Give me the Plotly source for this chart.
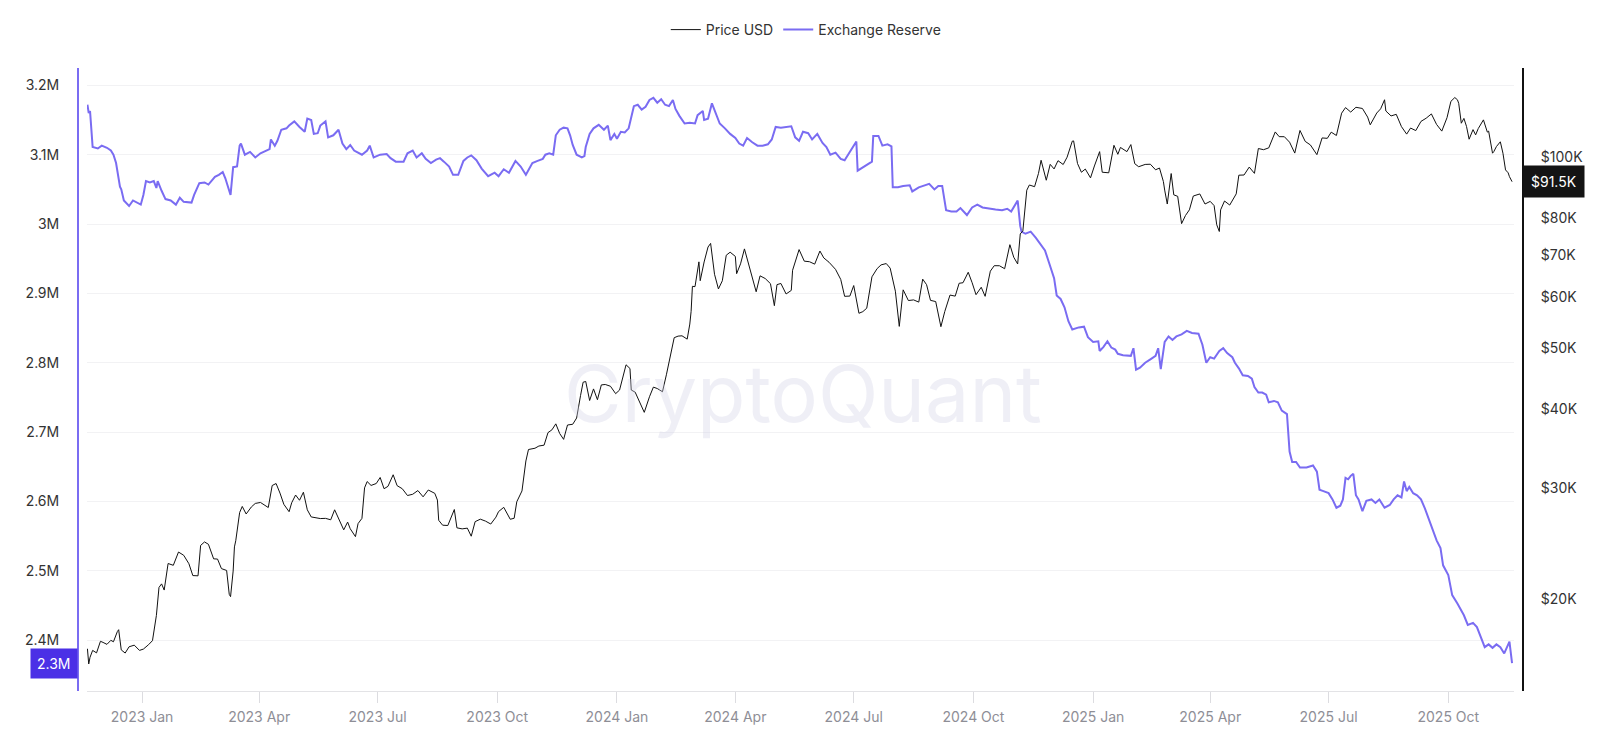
import plotly.graph_objs as go

# --- data ---
price_dates = [
    '2022-11-20', '2022-11-21', '2022-11-22', '2022-11-24', '2022-11-27', '2022-11-30',
    '2022-12-02', '2022-12-05', '2022-12-08', '2022-12-10', '2022-12-13', '2022-12-14',
    '2022-12-16', '2022-12-19', '2022-12-22', '2022-12-26', '2022-12-30',
    '2023-01-02', '2023-01-06', '2023-01-09', '2023-01-12', '2023-01-14', '2023-01-16',
    '2023-01-18', '2023-01-21', '2023-01-25', '2023-01-29', '2023-02-02', '2023-02-06',
    '2023-02-09', '2023-02-13', '2023-02-15', '2023-02-18', '2023-02-21', '2023-02-25',
    '2023-02-28', '2023-03-03', '2023-03-07', '2023-03-09', '2023-03-10', '2023-03-12',
    '2023-03-13', '2023-03-14', '2023-03-17', '2023-03-19', '2023-03-22', '2023-03-26',
    '2023-03-29', '2023-04-02', '2023-04-05', '2023-04-08', '2023-04-11', '2023-04-14',
    '2023-04-17', '2023-04-20', '2023-04-24', '2023-04-26', '2023-04-29', '2023-05-02',
    '2023-05-05', '2023-05-08', '2023-05-11', '2023-05-14', '2023-05-18', '2023-05-22',
    '2023-05-26', '2023-05-29', '2023-06-01', '2023-06-05', '2023-06-08', '2023-06-10',
    '2023-06-14', '2023-06-16', '2023-06-19', '2023-06-21', '2023-06-23', '2023-06-26',
    '2023-06-30', '2023-07-03', '2023-07-06', '2023-07-09', '2023-07-13', '2023-07-16',
    '2023-07-20', '2023-07-24', '2023-07-28', '2023-08-01', '2023-08-05', '2023-08-09',
    '2023-08-14', '2023-08-16', '2023-08-17', '2023-08-20', '2023-08-24', '2023-08-29',
    '2023-08-31', '2023-09-04', '2023-09-08', '2023-09-11', '2023-09-14', '2023-09-18',
    '2023-09-22', '2023-09-26', '2023-09-30', '2023-10-02', '2023-10-06', '2023-10-11',
    '2023-10-14', '2023-10-16', '2023-10-20', '2023-10-23', '2023-10-25', '2023-10-30',
    '2023-11-02', '2023-11-06', '2023-11-09', '2023-11-12', '2023-11-15', '2023-11-18',
    '2023-11-21', '2023-11-24', '2023-11-28', '2023-12-01', '2023-12-04', '2023-12-06',
    '2023-12-08', '2023-12-11', '2023-12-14', '2023-12-17', '2023-12-20', '2023-12-23',
    '2023-12-27', '2023-12-31',
    '2024-01-03', '2024-01-08', '2024-01-11', '2024-01-12', '2024-01-15', '2024-01-18',
    '2024-01-22', '2024-01-26', '2024-01-29', '2024-02-01', '2024-02-05', '2024-02-08',
    '2024-02-11', '2024-02-14', '2024-02-17', '2024-02-20', '2024-02-24', '2024-02-26',
    '2024-02-27', '2024-02-28', '2024-03-01', '2024-03-04', '2024-03-05', '2024-03-08',
    '2024-03-11', '2024-03-13', '2024-03-16', '2024-03-19', '2024-03-22', '2024-03-25',
    '2024-03-28', '2024-04-01', '2024-04-02', '2024-04-05', '2024-04-08', '2024-04-12',
    '2024-04-15', '2024-04-17', '2024-04-20', '2024-04-24', '2024-04-28', '2024-05-01',
    '2024-05-03', '2024-05-06', '2024-05-10', '2024-05-14', '2024-05-15', '2024-05-20',
    '2024-05-24', '2024-05-28', '2024-06-01', '2024-06-05', '2024-06-08', '2024-06-12',
    '2024-06-17', '2024-06-21', '2024-06-24', '2024-06-28', '2024-07-01', '2024-07-05',
    '2024-07-08', '2024-07-11', '2024-07-15', '2024-07-19', '2024-07-22', '2024-07-26',
    '2024-07-29', '2024-08-02', '2024-08-05', '2024-08-08', '2024-08-12', '2024-08-16',
    '2024-08-20', '2024-08-23', '2024-08-26', '2024-08-29', '2024-09-02', '2024-09-06',
    '2024-09-09', '2024-09-13', '2024-09-17', '2024-09-20', '2024-09-23', '2024-09-27',
    '2024-09-30', '2024-10-03', '2024-10-07', '2024-10-10', '2024-10-14', '2024-10-17',
    '2024-10-21', '2024-10-25', '2024-10-29', '2024-11-01', '2024-11-04', '2024-11-06',
    '2024-11-08', '2024-11-11', '2024-11-13', '2024-11-17', '2024-11-20', '2024-11-22',
    '2024-11-26', '2024-11-29', '2024-12-02', '2024-12-05', '2024-12-09', '2024-12-12',
    '2024-12-16', '2024-12-17', '2024-12-20', '2024-12-23', '2024-12-26', '2024-12-30',
    '2025-01-02', '2025-01-06', '2025-01-08', '2025-01-10', '2025-01-13', '2025-01-17',
    '2025-01-20', '2025-01-22', '2025-01-27', '2025-01-30', '2025-02-02', '2025-02-05',
    '2025-02-10', '2025-02-14', '2025-02-18', '2025-02-21', '2025-02-24', '2025-02-25',
    '2025-02-27', '2025-03-02', '2025-03-04', '2025-03-07', '2025-03-10', '2025-03-13',
    '2025-03-16', '2025-03-19', '2025-03-24', '2025-03-28', '2025-04-01', '2025-04-04',
    '2025-04-06', '2025-04-08', '2025-04-09', '2025-04-12', '2025-04-16', '2025-04-21',
    '2025-04-23', '2025-04-27', '2025-05-01', '2025-05-05', '2025-05-08', '2025-05-12',
    '2025-05-16', '2025-05-21', '2025-05-24', '2025-05-28', '2025-06-01', '2025-06-05',
    '2025-06-09', '2025-06-13', '2025-06-17', '2025-06-22', '2025-06-26', '2025-06-30',
    '2025-07-03', '2025-07-07', '2025-07-11', '2025-07-14', '2025-07-18', '2025-07-22',
    '2025-07-27', '2025-07-31', '2025-08-02', '2025-08-07', '2025-08-10', '2025-08-13',
    '2025-08-14', '2025-08-18', '2025-08-22', '2025-08-26', '2025-08-30', '2025-09-02',
    '2025-09-06', '2025-09-10', '2025-09-14', '2025-09-18', '2025-09-22', '2025-09-26',
    '2025-09-30', '2025-10-03', '2025-10-06', '2025-10-08', '2025-10-09', '2025-10-11',
    '2025-10-13', '2025-10-15', '2025-10-17', '2025-10-20', '2025-10-22', '2025-10-24',
    '2025-10-27', '2025-10-28', '2025-10-31', '2025-11-01', '2025-11-04', '2025-11-05',
    '2025-11-07', '2025-11-09', '2025-11-10', '2025-11-12', '2025-11-14', '2025-11-16',
    '2025-11-17', '2025-11-19',
]
price_usd = [
    16700, 15800, 16190, 16600, 16450, 17160,
    17090, 16970, 17220, 17130, 17780, 17900,
    16630, 16440, 16820, 16920, 16600,
    16680, 16950, 17200, 18850, 20880, 21150,
    20680, 22780, 22630, 23750, 23470, 22760,
    21800, 21780, 24330, 24640, 24430, 23170,
    23150, 22360, 22210, 20360, 20190, 22160,
    24200, 24750, 27430, 28040, 27280, 27990,
    28350, 28450, 28170, 27930, 30260, 30480,
    29440, 28250, 27510, 28420, 29230, 28680,
    29530, 27700, 26990, 26910, 26830, 26850,
    26710, 27700, 26820, 25750, 26490, 25850,
    25120, 26340, 26850, 30000, 30700, 30270,
    30480, 31160, 29910, 30170, 31470, 30250,
    29910, 29180, 29310, 29710, 29040, 29770,
    29410, 28700, 26660, 26190, 26160, 27730,
    25940, 25840, 25910, 25160, 26530, 26770,
    26580, 26300, 26970, 27520, 27950, 26760,
    26860, 28520, 29670, 33090, 34500, 34660,
    34940, 35050, 36690, 37060, 37880, 36570,
    35800, 37720, 37820, 38690, 41980, 44080,
    44200, 41240, 43020, 41360, 43650, 43720,
    43440, 42280,
    42840, 46970, 46340, 42850, 42510, 41280,
    39500, 41810, 43300, 43080, 42580, 45290,
    48300, 51840, 52140, 52200, 51570, 54480,
    57060, 62500, 62430, 68330, 63800, 68300,
    72120, 73080, 65310, 61910, 63780, 69990,
    70780, 69700, 65450, 67840, 71630, 67120,
    63430, 61280, 64940, 64300, 63110, 58250,
    62890, 63160, 60790, 61580, 66270, 71450,
    68500, 68360, 67760, 71080, 69310, 68240,
    66490, 64100, 60270, 60320, 62680, 56660,
    57000, 57720, 64700, 66680, 67580, 67910,
    66790, 61410, 54020, 61710, 59350, 59490,
    59010, 64160, 62880, 59390, 59130, 53960,
    57050, 60550, 60310, 63200, 63330, 65790,
    63330, 60630, 62290, 60270, 66050, 67380,
    67370, 66640, 72740, 69480, 67800, 75640,
    76510, 88700, 90400, 89840, 94290, 98920,
    91980, 97460, 95840, 98770, 97400, 100040,
    106060, 106140, 97760, 94690, 95800, 92780,
    96880, 102080, 94700, 94550, 94500, 104460,
    101090, 103650, 102080, 104730, 97690, 96620,
    97430, 97500, 95540, 96160, 91550, 88740,
    84350, 94250, 87220, 86740, 78530, 80900,
    82580, 86850, 87500, 84350, 85170, 83860,
    78210, 76320, 82570, 85280, 84030, 87520,
    93690, 93750, 96490, 94310, 103240, 102800,
    103490, 109670, 107800, 107780, 105650, 101540,
    110260, 105960, 104600, 100960, 107300, 107140,
    109580, 108260, 117420, 119840, 117900, 119960,
    119450, 115760, 112550, 117480, 119300, 123300,
    118360, 116250, 116930, 111800, 108800, 111230,
    110210, 113960, 115300, 117100, 112700, 110000,
    115500, 122600, 124300, 123300, 121700, 113200,
    115200, 111900, 106800, 110600, 108500, 111000,
    114100, 114600, 109600, 110000, 101500, 102100,
    104000, 105300, 105800, 101500, 95500, 94500,
    93200, 91500,
]

reserve_dates = [
    '2022-11-20', '2022-11-21', '2022-11-22', '2022-11-24', '2022-11-28', '2022-12-01',
    '2022-12-05', '2022-12-08', '2022-12-10', '2022-12-12', '2022-12-15', '2022-12-16',
    '2022-12-18', '2022-12-22', '2022-12-25', '2022-12-29', '2022-12-31',
    '2023-01-02', '2023-01-04', '2023-01-07', '2023-01-10', '2023-01-12', '2023-01-13',
    '2023-01-16', '2023-01-19', '2023-01-23', '2023-01-27', '2023-01-30', '2023-02-02',
    '2023-02-08', '2023-02-10', '2023-02-14', '2023-02-18', '2023-02-21', '2023-02-23',
    '2023-02-26', '2023-03-01', '2023-03-04', '2023-03-06', '2023-03-10', '2023-03-12',
    '2023-03-15', '2023-03-17', '2023-03-18', '2023-03-21', '2023-03-25', '2023-03-29',
    '2023-04-02', '2023-04-09', '2023-04-10', '2023-04-13', '2023-04-15', '2023-04-18',
    '2023-04-22', '2023-04-24', '2023-04-28', '2023-05-02', '2023-05-06', '2023-05-08',
    '2023-05-11', '2023-05-13', '2023-05-16', '2023-05-18', '2023-05-22', '2023-05-24',
    '2023-05-28', '2023-06-01', '2023-06-04', '2023-06-07', '2023-06-10', '2023-06-13',
    '2023-06-19', '2023-06-23', '2023-06-25', '2023-06-28', '2023-07-03', '2023-07-08',
    '2023-07-11', '2023-07-15', '2023-07-21', '2023-07-24', '2023-07-28', '2023-07-31',
    '2023-08-04', '2023-08-07', '2023-08-11', '2023-08-15', '2023-08-18', '2023-08-21',
    '2023-08-25', '2023-08-28', '2023-09-01', '2023-09-05', '2023-09-08', '2023-09-11',
    '2023-09-15', '2023-09-19', '2023-09-24', '2023-09-29', '2023-10-02', '2023-10-06',
    '2023-10-10', '2023-10-15', '2023-10-19', '2023-10-23', '2023-10-28', '2023-11-01',
    '2023-11-05', '2023-11-07', '2023-11-10', '2023-11-13', '2023-11-15', '2023-11-18',
    '2023-11-21', '2023-11-24', '2023-11-26', '2023-11-28', '2023-12-01', '2023-12-05',
    '2023-12-07', '2023-12-08', '2023-12-11', '2023-12-14', '2023-12-18', '2023-12-22',
    '2023-12-25', '2023-12-27', '2023-12-30',
    '2024-01-01', '2024-01-04', '2024-01-07', '2024-01-10', '2024-01-14', '2024-01-17',
    '2024-01-20', '2024-01-23', '2024-01-26', '2024-01-29', '2024-02-01', '2024-02-04',
    '2024-02-07', '2024-02-10', '2024-02-13', '2024-02-15', '2024-02-18', '2024-02-22',
    '2024-02-26', '2024-03-01', '2024-03-03', '2024-03-07', '2024-03-08', '2024-03-11',
    '2024-03-14', '2024-03-17', '2024-03-20', '2024-03-24', '2024-03-28', '2024-04-01',
    '2024-04-04', '2024-04-07', '2024-04-10', '2024-04-14', '2024-04-18', '2024-04-22',
    '2024-04-26', '2024-04-29', '2024-05-02', '2024-05-06', '2024-05-10', '2024-05-14',
    '2024-05-17', '2024-05-20', '2024-05-23', '2024-05-27', '2024-05-30', '2024-06-03',
    '2024-06-07', '2024-06-10', '2024-06-13', '2024-06-17', '2024-06-21', '2024-06-24',
    '2024-06-27', '2024-06-30', '2024-07-03', '2024-07-04', '2024-07-08', '2024-07-12',
    '2024-07-15', '2024-07-16', '2024-07-20', '2024-07-23', '2024-07-27', '2024-07-30',
    '2024-07-31', '2024-08-04', '2024-08-08', '2024-08-13', '2024-08-15', '2024-08-20',
    '2024-08-24', '2024-08-28', '2024-09-01', '2024-09-04', '2024-09-07', '2024-09-10',
    '2024-09-14', '2024-09-18', '2024-09-21', '2024-09-26', '2024-09-30', '2024-10-04',
    '2024-10-08', '2024-10-13', '2024-10-18', '2024-10-23', '2024-10-27', '2024-10-30',
    '2024-11-02', '2024-11-04', '2024-11-06', '2024-11-07', '2024-11-10', '2024-11-14',
    '2024-11-18', '2024-11-21', '2024-11-25', '2024-11-28', '2024-12-01', '2024-12-02',
    '2024-12-04', '2024-12-07', '2024-12-10', '2024-12-13', '2024-12-16', '2024-12-21',
    '2024-12-25', '2024-12-28',
    '2025-01-01', '2025-01-05', '2025-01-06', '2025-01-09', '2025-01-12', '2025-01-15',
    '2025-01-18', '2025-01-20', '2025-01-24', '2025-01-28', '2025-01-30', '2025-02-01',
    '2025-02-03', '2025-02-06', '2025-02-10', '2025-02-14', '2025-02-18', '2025-02-20',
    '2025-02-22', '2025-02-25', '2025-02-28', '2025-03-03', '2025-03-06', '2025-03-10',
    '2025-03-14', '2025-03-18', '2025-03-23', '2025-03-26', '2025-03-29', '2025-04-01',
    '2025-04-04', '2025-04-08', '2025-04-11', '2025-04-14', '2025-04-18', '2025-04-20',
    '2025-04-23', '2025-04-26', '2025-04-30', '2025-05-03', '2025-05-05', '2025-05-08',
    '2025-05-11', '2025-05-14', '2025-05-16', '2025-05-20', '2025-05-23', '2025-05-26',
    '2025-05-30', '2025-06-01', '2025-06-03', '2025-06-06', '2025-06-09', '2025-06-14',
    '2025-06-19', '2025-06-22', '2025-06-24', '2025-06-27', '2025-07-01', '2025-07-04',
    '2025-07-07', '2025-07-10', '2025-07-12', '2025-07-14', '2025-07-16', '2025-07-18',
    '2025-07-20', '2025-07-22', '2025-07-24', '2025-07-27', '2025-07-30', '2025-08-03',
    '2025-08-06', '2025-08-09', '2025-08-13', '2025-08-17', '2025-08-20', '2025-08-23',
    '2025-08-26', '2025-08-28', '2025-08-30', '2025-09-01', '2025-09-04', '2025-09-07',
    '2025-09-10', '2025-09-13', '2025-09-16', '2025-09-19', '2025-09-22', '2025-09-25',
    '2025-09-27', '2025-10-01', '2025-10-04', '2025-10-08', '2025-10-11', '2025-10-13',
    '2025-10-16', '2025-10-20', '2025-10-23', '2025-10-26', '2025-10-29', '2025-11-01',
    '2025-11-04', '2025-11-07', '2025-11-10', '2025-11-13', '2025-11-17', '2025-11-19',
]
reserve_btc = [
    3.172, 3.160, 3.163, 3.111, 3.109, 3.113,
    3.110, 3.106, 3.100, 3.088, 3.054, 3.050,
    3.034, 3.026, 3.034, 3.030, 3.028,
    3.042, 3.062, 3.060, 3.062, 3.052, 3.062,
    3.048, 3.036, 3.034, 3.028, 3.038, 3.032,
    3.031, 3.042, 3.059, 3.060, 3.057, 3.062,
    3.068, 3.071, 3.075, 3.066, 3.042, 3.082,
    3.083, 3.113, 3.116, 3.100, 3.104, 3.096,
    3.102, 3.108, 3.122, 3.113, 3.120, 3.136,
    3.138, 3.142, 3.148, 3.140, 3.133, 3.152,
    3.150, 3.130, 3.131, 3.142, 3.148, 3.125,
    3.128, 3.136, 3.116, 3.108, 3.114, 3.106,
    3.100, 3.106, 3.113, 3.096, 3.100, 3.101,
    3.095, 3.090, 3.090, 3.102, 3.106, 3.096,
    3.102, 3.094, 3.088, 3.093, 3.095, 3.090,
    3.083, 3.071, 3.071, 3.091, 3.096, 3.099,
    3.092, 3.080, 3.069, 3.074, 3.069, 3.079,
    3.074, 3.091, 3.083, 3.071, 3.088, 3.091,
    3.094, 3.100, 3.102, 3.100, 3.128, 3.136,
    3.139, 3.138, 3.128, 3.114, 3.100, 3.096,
    3.098, 3.111, 3.130, 3.138, 3.143, 3.136,
    3.142, 3.121, 3.130,
    3.123, 3.133, 3.132, 3.138, 3.170, 3.172,
    3.165, 3.169, 3.179, 3.182, 3.175, 3.180,
    3.172, 3.170, 3.179, 3.166, 3.156, 3.145,
    3.146, 3.145, 3.157, 3.163, 3.150, 3.152,
    3.174, 3.158, 3.145, 3.138, 3.130, 3.124,
    3.116, 3.113, 3.124, 3.118, 3.113, 3.113,
    3.115, 3.122, 3.140, 3.139, 3.140, 3.141,
    3.125, 3.120, 3.133, 3.131, 3.122, 3.130,
    3.117, 3.111, 3.100, 3.103, 3.094, 3.092,
    3.101, 3.111, 3.119, 3.077, 3.082, 3.087,
    3.090, 3.127, 3.127, 3.113, 3.115, 3.112,
    3.053, 3.053, 3.055, 3.056, 3.047, 3.053,
    3.055, 3.058, 3.050, 3.055, 3.055, 3.020,
    3.018, 3.018, 3.023, 3.013, 3.024, 3.028,
    3.024, 3.022, 3.021, 3.020, 3.022, 3.018,
    3.028, 3.034, 2.997, 2.989, 2.986, 2.989,
    2.980, 2.972, 2.962, 2.945, 2.930, 2.922,
    2.897, 2.892, 2.880, 2.860, 2.848, 2.851,
    2.852, 2.837,
    2.830, 2.831, 2.817, 2.823, 2.831, 2.822,
    2.819, 2.813, 2.811, 2.811, 2.810, 2.821,
    2.790, 2.793, 2.800, 2.805, 2.810, 2.821,
    2.791, 2.830, 2.838, 2.833, 2.838, 2.841,
    2.846, 2.843, 2.842, 2.826, 2.800, 2.808,
    2.806, 2.817, 2.821, 2.814, 2.808, 2.800,
    2.792, 2.782, 2.781, 2.777, 2.765, 2.757,
    2.757, 2.754, 2.743, 2.745, 2.743, 2.731,
    2.726, 2.672, 2.657, 2.657, 2.649, 2.649,
    2.652, 2.643, 2.617, 2.615, 2.612, 2.603,
    2.591, 2.594, 2.603, 2.634, 2.632, 2.637,
    2.640, 2.609, 2.603, 2.586, 2.601, 2.603,
    2.598, 2.603, 2.591, 2.595, 2.603, 2.609,
    2.606, 2.629, 2.615, 2.621, 2.612, 2.609,
    2.603, 2.590, 2.575, 2.557, 2.544, 2.533,
    2.508, 2.494, 2.465, 2.453, 2.443, 2.436,
    2.422, 2.425, 2.419, 2.405, 2.390, 2.394,
    2.389, 2.394, 2.390, 2.381, 2.398, 2.367,
]

reserve_vals = [v * 1e6 for v in reserve_btc]

left_ticks = [2.4e6, 2.5e6, 2.6e6, 2.7e6, 2.8e6, 2.9e6, 3.0e6, 3.1e6, 3.2e6]
left_labels = ['2.4M', '2.5M', '2.6M', '2.7M', '2.8M', '2.9M', '3M', '3.1M', '3.2M']
right_ticks = [20000, 30000, 40000, 50000, 60000, 70000, 80000, 100000]
right_labels = ['$20K', '$30K', '$40K', '$50K', '$60K', '$70K', '$80K', '$100K']
x_ticks = ['2023-01-01', '2023-04-01', '2023-07-01', '2023-10-01',
           '2024-01-01', '2024-04-01', '2024-07-01', '2024-10-01',
           '2025-01-01', '2025-04-01', '2025-07-01', '2025-10-01']

PURPLE = '#7a6cf2'
FONT = 'Inter, Roboto, sans-serif'

fig = go.Figure()

fig.add_trace(go.Scatter(
    x=reserve_dates, y=reserve_vals, name='Exchange Reserve',
    yaxis='y', mode='lines', legendrank=2,
    line=dict(color=PURPLE, width=2),
))
fig.add_trace(go.Scatter(
    x=price_dates, y=price_usd, name='Price USD',
    yaxis='y2', mode='lines', legendrank=1,
    line=dict(color='#111111', width=1),
))

# page is drawn with an 8px body margin, so everything sits 8px right/down
fig.update_layout(
    width=1600, height=738,
    margin=dict(l=70, r=85, t=60, b=55, autoexpand=False),
    paper_bgcolor='white', plot_bgcolor='white',
    font=dict(family=FONT, size=14, color='#333333'),
    showlegend=True,
    legend=dict(orientation='h', x=0.504, xanchor='center',
                yref='container', y=1 - 22 / 738, yanchor='middle',
                font=dict(size=14, color='#333333'), itemwidth=30),
    xaxis=dict(
        domain=[9 / 1445, 1436 / 1445],
        type='date', automargin=False,
        range=['2022-11-19 16:00', '2025-11-20 12:00'],
        tickvals=x_ticks,
        tickformat='%Y %b',
        showgrid=False, zeroline=False,
        showline=True, linecolor='#e3e3e6', linewidth=1,
        ticks='outside', ticklen=11, tickcolor='#dcdce0',
        ticklabelstandoff=2,
        tickfont=dict(size=14, color='#8e8e96'),
    ),
    yaxis=dict(
        anchor='free', position=0, side='left', automargin=False,
        range=[2.3268e6, 3.225e6],
        tickvals=left_ticks, ticktext=left_labels,
        showgrid=True, gridcolor='#f2f2f4', gridwidth=1, zeroline=False,
        showline=True, linecolor=PURPLE, linewidth=2,
        ticks='outside', ticklen=15, tickcolor='rgba(0,0,0,0)',
        tickfont=dict(size=14, color='#333333'),
    ),
    yaxis2=dict(
        anchor='free', position=1, side='right', overlaying='y', automargin=False,
        type='log', range=[4.1559, 5.1412],
        tickvals=right_ticks, ticktext=right_labels,
        showgrid=False, zeroline=False,
        showline=True, linecolor='#111111', linewidth=2,
        ticks='outside', ticklen=14, tickcolor='rgba(0,0,0,0)',
        tickfont=dict(size=14, color='#333333'),
    ),
)

# watermark
fig.add_annotation(
    text='CryptoQuant', xref='paper', yref='paper', x=0.5017, y=0.478,
    showarrow=False, font=dict(family=FONT, size=79, color='rgba(210,208,228,0.35)'),
)

# last value markers
fig.add_annotation(
    text='2.3M', xref='paper', yref='y', x=0, y=reserve_vals[-1],
    xanchor='right', yanchor='middle', showarrow=False,
    bgcolor='#4b30e6', borderpad=6,
    font=dict(family=FONT, size=14, color='white'),
)
fig.add_annotation(
    text='$91.5K', xref='paper', yref='y2', x=1, y=4.9614,
    xanchor='left', yanchor='middle', showarrow=False,
    bgcolor='#141414', borderpad=7,
    font=dict(family=FONT, size=14, color='white'),
)

fig.write_html('out.html')
